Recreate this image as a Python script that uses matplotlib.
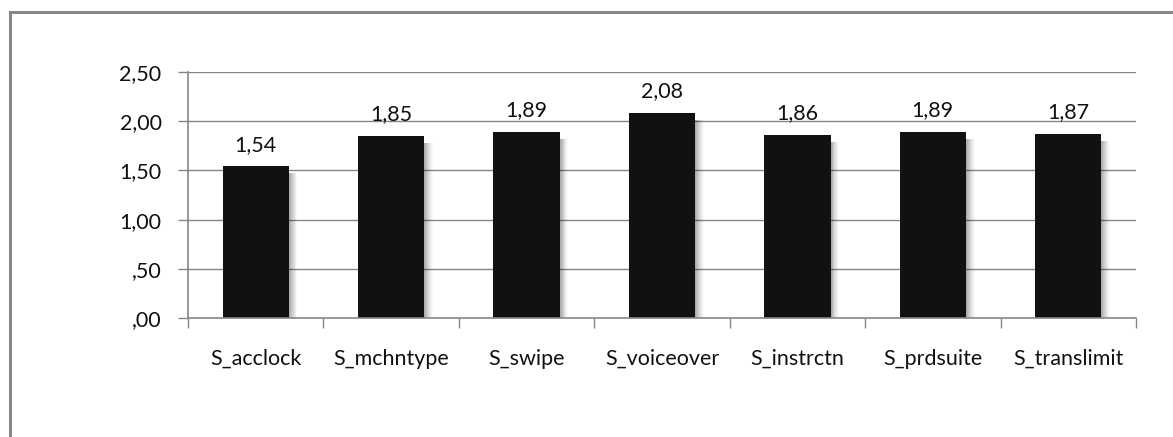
import matplotlib
matplotlib.use("Agg")
import matplotlib.pyplot as plt
from matplotlib.patches import Rectangle

categories = ["S_acclock", "S_mchntype", "S_swipe", "S_voiceover",
              "S_instrctn", "S_prdsuite", "S_translimit"]
means = [1.54, 1.85, 1.89, 2.08, 1.86, 1.89, 1.87]
yticks = [0.0, 0.5, 1.0, 1.5, 2.0, 2.5]


def comma(v):
    s = f"{v:.2f}".replace(".", ",")
    return s[1:] if s.startswith("0") else s


plt.rcParams["font.family"] = ["Lato", "DejaVu Sans"]
fs = 15.5

W, H = 1173, 437
fig = plt.figure(figsize=(W / 100, H / 100), dpi=100)

# chart frame, only top and left edge fall inside the image
fig.patches.append(Rectangle((9.5 / W, -0.1), 1.2, (H - 12) / H + 0.1,
                             transform=fig.transFigure, fill=False,
                             edgecolor="#878787", linewidth=2.2))

ax = fig.add_axes([188 / W, (H - 318) / H, 948 / W, 246 / H])
x = range(len(categories))
ax.set_xlim(-0.5, len(categories) - 0.5)
ax.set_ylim(0, 2.5)

grey = "#868686"
for y in yticks[1:]:
    ax.axhline(y, color=grey, linewidth=1, zorder=0)

# soft shadow on the right of each bar
bw = 0.49
steps = 9
for i, v in enumerate(means):
    for k in range(steps):
        a = 0.55 * (1 - k / steps) ** 1.3
        ax.add_patch(Rectangle((i + bw / 2 + k * 0.007, 0), 0.007, v - 0.07,
                               facecolor="black", alpha=a * 0.6,
                               linewidth=0, zorder=1))

ax.bar(x, means, width=bw, color="#111111", zorder=2)
for i, v in enumerate(means):
    ax.text(i, v + 0.12, comma(v), ha="center", va="bottom",
            fontsize=fs, color="#111111")

ax.set_yticks(yticks)
ax.set_yticklabels([comma(v) for v in yticks], fontsize=fs, color="#111111")
ax.set_xticks([i - 0.5 for i in range(len(categories) + 1)], minor=False)
ax.set_xticklabels([])
ax.set_xticks(list(x), minor=True)
ax.set_xticklabels(categories, minor=True, fontsize=fs, color="#111111")
ax.tick_params(axis="x", which="minor", length=0, pad=22)
ax.tick_params(axis="x", which="major", length=7, color=grey, width=1)
ax.tick_params(axis="y", length=7, color=grey, width=1, pad=12)

for s in ["top", "right"]:
    ax.spines[s].set_visible(False)
for s in ["left", "bottom"]:
    ax.spines[s].set_color(grey)
    ax.spines[s].set_linewidth(1.2)

fig.savefig("out.png", dpi=100)
